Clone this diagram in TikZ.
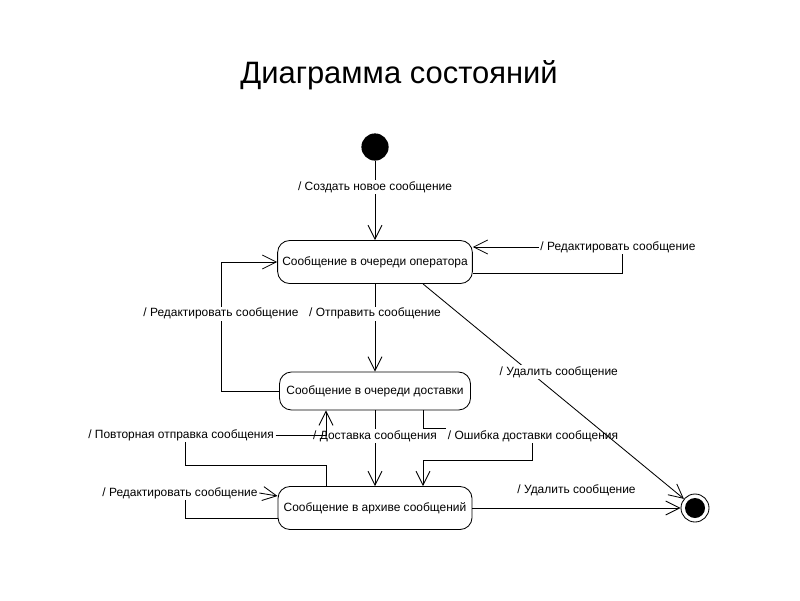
\documentclass[tikz,border=0pt]{standalone}
\usepackage{fontspec}
\setmainfont{Liberation Sans}
\usetikzlibrary{arrows.meta}
\tikzset{
	stateBox/.style={draw, rounded corners=3mm, minimum width=4.85cm, minimum height=1.075cm, font=\fontsize{8.5}{10}\selectfont},
	transLabel/.style={fill=white, inner sep=1pt, font=\fontsize{8.5}{10}\selectfont},
	umlArrow/.style={-{Straight Barb[length=3.5mm, width=3.5mm]}}
}

\begin{document}
\begin{tikzpicture}[x=0.025cm, y=-0.025cm, line width=0.6pt]
	\useasboundingbox (0,0) rectangle (800,600);
	\node[font=\fontsize{22}{26}\selectfont] (title) at (399,75) {Диаграмма состояний};

	% States
	\node[circle, fill, minimum size=0.68cm, inner sep=0] (init) at (375,147) {};
	\node[stateBox] (s1) at (375,262) {Сообщение в очереди оператора};
	\node[stateBox, minimum width=4.775cm, minimum height=0.95cm] (s2) at (375,391) {Сообщение в очереди доставки};
	\node[stateBox] (s3) at (375,508) {Сообщение в архиве сообщений};
	\node[circle, draw, minimum size=0.7cm, inner sep=0] (fin) at (695,508) {};
	\node[circle, fill, minimum size=0.5cm, inner sep=0] (finDot) at (fin) {};

	% Main flow
	\draw[umlArrow] (init) -- node[transLabel, pos=0.33] {/ Создать новое сообщение} (s1);
	\draw[umlArrow] (s1) -- node[transLabel, pos=0.34] {/ Отправить сообщение} (s2);
	\draw[umlArrow] (s2) -- node[transLabel, pos=0.34] {/ Доставка сообщения} (s3);

	% Edit loops
	\node[transLabel] (editTop) at (618,247) {/ Редактировать сообщение};
	\coordinate (loopR) at (622,273);
	\draw (s1.east |- loopR) -- (loopR) -- (loopR |- editTop.south);
	\draw[umlArrow] (editTop.west) -- (s1.east |- editTop.west);

	\coordinate (loopL) at (221,262);
	\draw[umlArrow] (s2.west) -| node[transLabel, pos=0.8] {/ Редактировать сообщение} (loopL) -- (s1.west);

	\node[transLabel] (editLow) at (180,493) {/ Редактировать сообщение};
	\coordinate (loopB) at (185,518);
	\draw (s3.west |- loopB) -- (loopB) -- (loopB |- editLow.south);
	\draw[umlArrow] (editLow.east) -- ([yshift=0.3cm]s3.west);

	% Delivery
	\node[transLabel] (resend) at (181,435) {/ Повторная отправка сообщения};
	\coordinate (resendLow) at (185,465);
	\draw ([xshift=-1.225cm]s3.north) |- (resendLow) -- (resendLow |- resend.south);
	\draw[umlArrow] (resend.east) -| ([xshift=-1.225cm]s2.south);

	\node[transLabel] (fail) at (533,436) {/ Ошибка доставки сообщения};
	\coordinate (failLow) at (532,460);
	\draw ([xshift=1.2cm]s2.south) |- ([yshift=0.2cm]fail.west);
	\draw[umlArrow] (failLow |- fail.south) -- (failLow) -| ([xshift=1.2cm]s3.north);

	% Delete
	\draw[umlArrow] ([xshift=1.2cm]s1.south) -- node[transLabel, pos=0.41, xshift=0.72cm] {/ Удалить сообщение} (fin);
	\draw[umlArrow] (s3) -- node[transLabel, above=7pt] {/ Удалить сообщение} (fin);
\end{tikzpicture}
\end{document}
